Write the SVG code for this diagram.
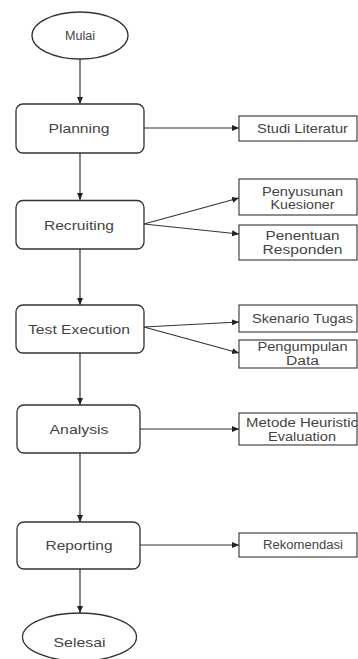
<svg xmlns="http://www.w3.org/2000/svg" width="358" height="659" viewBox="0 0 358 659">
<defs>
<marker id="ah" markerWidth="8" markerHeight="8" refX="7" refY="4" orient="auto" markerUnits="userSpaceOnUse">
<path d="M0,1 L7,4 L0,7 Z" fill="#222"/>
</marker>
<style>
.n{fill:#fff;stroke:#333;stroke-width:1.3}
.s{fill:#fff;stroke:#333;stroke-width:1.1}
.c line{stroke:#333;stroke-width:1.2;marker-end:url(#ah)}
text{font-family:"Liberation Sans",Arial,sans-serif;fill:#444;text-anchor:middle}
.m{font-size:13.5px}
.t{font-size:12px}
</style>
</defs>
<rect width="358" height="659" fill="#fff"/>
<g class="c">
<line x1="80" y1="59" x2="80" y2="104"/>
<line x1="144" y1="128" x2="239" y2="128"/>
<line x1="80" y1="153" x2="80" y2="200"/>
<line x1="144" y1="224" x2="239" y2="198"/>
<line x1="144" y1="224" x2="239" y2="234"/>
<line x1="80" y1="249" x2="80" y2="305"/>
<line x1="144" y1="327" x2="239" y2="322"/>
<line x1="144" y1="327" x2="239" y2="353"/>
<line x1="80" y1="353" x2="80" y2="405"/>
<line x1="140" y1="429" x2="239" y2="429"/>
<line x1="80" y1="453" x2="80" y2="522"/>
<line x1="140" y1="545" x2="239" y2="545"/>
<line x1="80" y1="569" x2="80" y2="613"/>
</g>
<g id="mulai"><ellipse class="n" cx="80" cy="35.5" rx="48" ry="23.5"/><text class="t" x="80" y="39.5" textLength="30" lengthAdjust="spacingAndGlyphs">Mulai</text></g>
<g id="planning"><rect class="n" x="16" y="104" width="128" height="49" rx="7"/><text class="m" x="79" y="133" textLength="61" lengthAdjust="spacingAndGlyphs">Planning</text></g>
<g id="studi"><rect class="s" x="239" y="116" width="118" height="25"/><text class="t" x="302.5" y="132.5" textLength="91" lengthAdjust="spacingAndGlyphs">Studi Literatur</text></g>
<g id="recruiting"><rect class="n" x="16" y="200.5" width="128" height="48.5" rx="7"/><text class="m" x="79" y="229.5" textLength="70" lengthAdjust="spacingAndGlyphs">Recruiting</text></g>
<g id="penyusunan"><rect class="s" x="239" y="179" width="118" height="36"/><text class="t" x="302.5" y="196" textLength="81" lengthAdjust="spacingAndGlyphs">Penyusunan</text><text class="t" x="302.5" y="209" textLength="64" lengthAdjust="spacingAndGlyphs">Kuesioner</text></g>
<g id="penentuan"><rect class="s" x="239" y="225" width="118" height="35"/><text class="t" x="302.5" y="240" textLength="74" lengthAdjust="spacingAndGlyphs">Penentuan</text><text class="t" x="302.5" y="253.5" textLength="80" lengthAdjust="spacingAndGlyphs">Responden</text></g>
<g id="test"><rect class="n" x="16" y="305" width="128" height="48" rx="7"/><text class="m" x="79" y="334" textLength="102" lengthAdjust="spacingAndGlyphs">Test Execution</text></g>
<g id="skenario"><rect class="s" x="239" y="305" width="118" height="27"/><text class="t" x="302.5" y="323" textLength="101" lengthAdjust="spacingAndGlyphs">Skenario Tugas</text></g>
<g id="pengumpulan"><rect class="s" x="239" y="340" width="118" height="28"/><text class="t" x="302.5" y="351" textLength="90" lengthAdjust="spacingAndGlyphs">Pengumpulan</text><text class="t" x="302.5" y="364.5" textLength="33" lengthAdjust="spacingAndGlyphs">Data</text></g>
<g id="analysis"><rect class="n" x="17" y="405" width="123" height="48" rx="7"/><text class="m" x="79" y="433.5" textLength="59" lengthAdjust="spacingAndGlyphs">Analysis</text></g>
<g id="metode"><rect class="s" x="239" y="413" width="118" height="32"/><text class="t" x="302" y="427" textLength="112" lengthAdjust="spacingAndGlyphs">Metode Heuristic</text><text class="t" x="302" y="440.5" textLength="68" lengthAdjust="spacingAndGlyphs">Evaluation</text></g>
<g id="reporting"><rect class="n" x="17" y="522" width="123" height="47" rx="7"/><text class="m" x="79" y="549.5" textLength="67" lengthAdjust="spacingAndGlyphs">Reporting</text></g>
<g id="rekomendasi"><rect class="s" x="239" y="533" width="118" height="24"/><text class="t" x="303" y="548.5" textLength="80" lengthAdjust="spacingAndGlyphs">Rekomendasi</text></g>
<g id="selesai"><ellipse class="n" cx="79.5" cy="637" rx="57" ry="24"/><text class="m" x="79.5" y="647" textLength="52" lengthAdjust="spacingAndGlyphs">Selesai</text></g>
</svg>
